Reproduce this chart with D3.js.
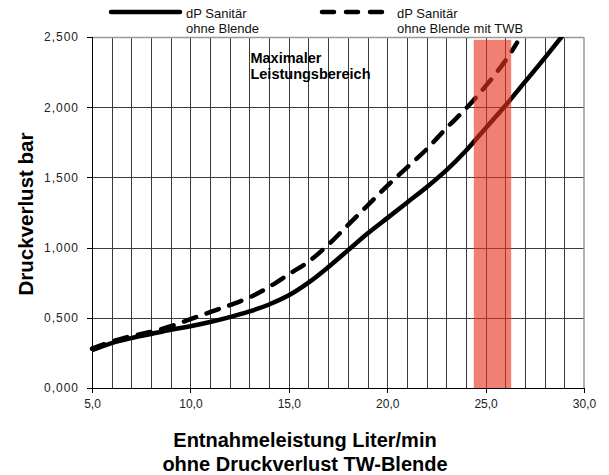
<!DOCTYPE html>
<meta charset="utf-8">
<style>
body { margin: 0; background: #fff; }
svg { font-family: "Liberation Sans", Arial, sans-serif; }
.grid line { stroke: #3a3a3a; stroke-width: 1px; shape-rendering: crispEdges; }
.grid path { stroke-width: 0; }
.axis path, .axis line { stroke: #000; shape-rendering: crispEdges; }
.axis text { font-size: 12px; fill: #222; }
.line { fill: none; stroke: #000; stroke-width: 4.5px; }
</style>
<body>
<script src="https://d3js.org/d3.v7.min.js"></script>
<script>

// data
var xSolid = [5, 6, 7, 8, 9, 10, 11, 12, 13, 14, 15, 16, 17, 18, 19, 20, 21, 22, 23, 24, 25, 26, 27, 28, 29.2];
var ySolid = [0.27, 0.32, 0.355, 0.385, 0.415, 0.44, 0.47, 0.505, 0.545, 0.595, 0.66, 0.75, 0.86, 0.98, 1.10, 1.21, 1.32, 1.43, 1.55, 1.69, 1.85, 2.01, 2.18, 2.35, 2.56];
var xDash = [5, 6, 7, 8, 9, 10, 11, 12, 13, 14, 15, 16, 17, 18, 19, 20, 21, 22, 23, 24, 25, 26, 26.6];
var yDash = [0.28, 0.33, 0.37, 0.40, 0.44, 0.49, 0.54, 0.59, 0.645, 0.72, 0.81, 0.90, 1.02, 1.16, 1.30, 1.44, 1.57, 1.70, 1.85, 1.99, 2.15, 2.33, 2.46];
var seriesNames = [["dP Sanitär", "ohne Blende"], ["dP Sanitär", "ohne Blende mit TWB"]];
var bandRange = [24.4, 26.3];
var bandTop = 2.48;
var xTicks = [5, 10, 15, 20, 25, 30];
var yTicks = [0, 0.5, 1, 1.5, 2, 2.5];
var xMinorGrid = d3.range(6, 30, 1);

var margin = {top: 37, right: 25, bottom: 87, left: 92},
    width = 584 - margin.left,
    height = 388 - margin.top;

var x = d3.scaleLinear().domain([5, 30]).range([0, width]);
var y = d3.scaleLinear().domain([0, 2.5]).range([height, 0]);

var svg = d3.select("body").append("svg")
    .attr("width", 609)
    .attr("height", 475);

var g = svg.append("g")
    .attr("transform", "translate(" + margin.left + "," + margin.top + ")");

var comma = function(f) { return function(d) { return d3.format(f)(d).replace(".", ","); }; };

// vertical grid
g.append("g")
    .attr("class", "grid")
    .attr("transform", "translate(0," + height + ")")
    .call(d3.axisBottom(x).tickValues(xMinorGrid).tickSize(-height).tickFormat(""));

// horizontal grid
g.append("g")
    .attr("class", "grid")
    .call(d3.axisLeft(y).tickValues([0.5, 1, 1.5, 2]).tickSize(-width).tickFormat(""));

// top and right border
g.append("line").attr("x1", 0).attr("x2", width).attr("y1", 0.5).attr("y2", 0.5)
    .attr("stroke", "#999").attr("stroke-width", 1.5);
g.append("line").attr("x1", width).attr("x2", width).attr("y1", 0).attr("y2", height)
    .attr("stroke", "#999").attr("stroke-width", 1.5);

g.append("clipPath").attr("id", "clip")
  .append("rect").attr("x", -5).attr("y", 0).attr("width", width + 5).attr("height", height);

var solid = xSolid.map(function(d, i) { return [d, ySolid[i]]; });
var dashed = xDash.map(function(d, i) { return [d, yDash[i]]; });

var line = d3.line()
    .x(function(d) { return x(d[0]); })
    .y(function(d) { return y(d[1]); })
    .curve(d3.curveCatmullRom.alpha(0.5));

g.append("path")
    .datum(solid)
    .attr("class", "line")
    .attr("clip-path", "url(#clip)")
    .attr("d", line);

g.append("path")
    .datum(dashed)
    .attr("class", "line")
    .attr("stroke-dasharray", "13,11")
    .attr("stroke-linecap", "round")
    .attr("d", line);

// red band (maximaler Leistungsbereich)
g.append("rect")
    .attr("x", x(bandRange[0]))
    .attr("width", x(bandRange[1]) - x(bandRange[0]))
    .attr("y", y(bandTop))
    .attr("height", y(0) - y(bandTop))
    .attr("fill", "#e8321e")
    .attr("fill-opacity", 0.62);

g.append("text")
    .attr("font-weight", "bold")
    .attr("font-size", "14.5px")
    .selectAll("tspan")
    .data(["Maximaler", "Leistungsbereich"])
    .join("tspan")
    .attr("x", x(13.0) + 1)
    .attr("y", function(d, i) { return 25.5 + i * 16; })
    .text(function(d) { return d; });

// axes
g.append("g")
    .attr("class", "axis")
    .attr("transform", "translate(0," + height + ")")
    .call(d3.axisBottom(x).tickValues(xTicks).tickSize(5).tickPadding(6).tickFormat(comma(".1f")))
    .call(function(s) { s.select(".domain").attr("d", "M0,0.5H" + width); });

g.append("g")
    .attr("class", "axis")
    .call(d3.axisLeft(y).tickValues(yTicks).tickSize(5).tickPadding(8).tickFormat(comma(".3f")))
    .call(function(s) { s.select(".domain").attr("d", "M0.5," + (height + 5) + "V0"); })
    .selectAll("text").attr("letter-spacing", "1px");

// axis titles
svg.append("text")
    .attr("transform", "rotate(-90)")
    .attr("x", -214)
    .attr("y", 33)
    .attr("text-anchor", "middle")
    .attr("font-weight", "bold")
    .attr("font-size", "20.5px")
    .text("Druckverlust bar");

svg.append("text")
    .attr("text-anchor", "middle")
    .attr("font-weight", "bold")
    .attr("font-size", "20px")
    .selectAll("tspan")
    .data(["Entnahmeleistung Liter/min", "ohne Druckverlust TW-Blende"])
    .join("tspan")
    .attr("x", 305)
    .attr("y", function(d, i) { return 447 + i * 24; })
    .text(function(d) { return d; });

// legend
var legendX = [111, 322];
var leg = svg.selectAll(".legend")
    .data(seriesNames)
    .join("g")
    .attr("class", "legend")
    .attr("transform", function(d, i) { return "translate(" + legendX[i] + ",0)"; });

leg.append("line")
    .attr("x1", 0).attr("x2", 69)
    .attr("y1", 12).attr("y2", 12)
    .attr("stroke", "#000")
    .attr("stroke-width", 4.5)
    .attr("stroke-linecap", "round")
    .attr("stroke-dasharray", function(d, i) { return i ? "12,12" : null; });

leg.append("text")
    .attr("font-size", "13px")
    .attr("fill", "#111")
    .selectAll("tspan")
    .data(function(d) { return d; })
    .join("tspan")
    .attr("x", 75)
    .attr("y", function(d, i) { return 18 + i * 15; })
    .text(function(d) { return d; });

</script>
</body>
